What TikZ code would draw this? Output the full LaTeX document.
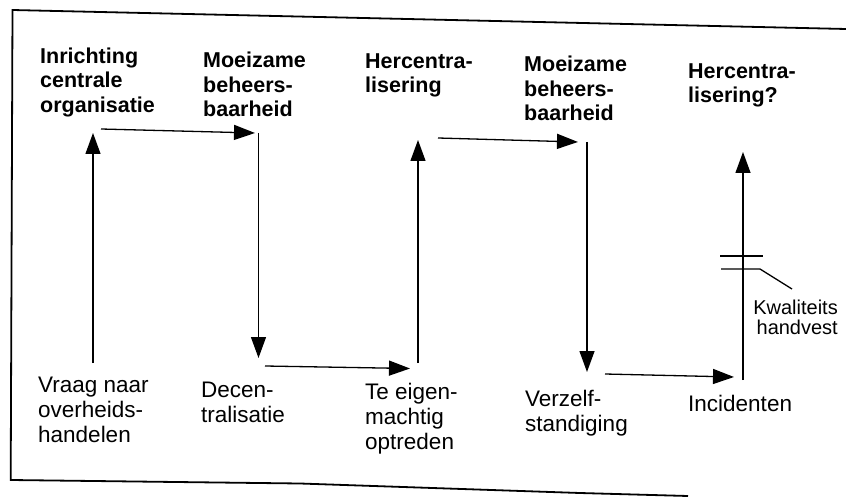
\documentclass[tikz,border=0pt]{standalone}
\usepackage{fontspec}
\setmainfont{Liberation Sans}
\usetikzlibrary{arrows.meta}
\begin{document}
\begin{tikzpicture}[x=1pt,y=-1pt,
  toplab/.style={anchor=north west, inner sep=0pt, align=left,
    font=\bfseries\fontsize{21.5}{24.5}\selectfont},
  botlab/.style={anchor=north west, inner sep=0pt, align=left,
    font=\fontsize{22.5}{25}\selectfont},
  kwlab/.style={anchor=north east, inner sep=0pt, align=right,
    font=\fontsize{20}{20}\selectfont},
  arr/.style={line width=1.3pt, -{Triangle[length=21pt,width=15pt]}},
  thin line/.style={line width=1.3pt},
  frameline/.style={line width=1.8pt}]
\useasboundingbox (0,0) rectangle (846,497);
% frame
\draw[frameline] (846,29) -- (12.5,10) -- (10.7,480) -- (300,483.5) -- (580,493) -- (688,496);
% labels
\node[toplab] (t1) at (40,47.7) {Inrichting\\centrale\\organisatie};
\node[toplab] (t2) at (203,52) {Moeizame\\beheers-\\baarheid};
\node[toplab] (t3) at (365,53.3) {Hercentra-\\lisering};
\node[toplab] (t4) at (524,56) {Moeizame\\beheers-\\baarheid};
\node[toplab] (t5) at (688,63.3) {Hercentra-\\lisering?};
\node[botlab] (b1) at (38,377.3) {Vraag naar\\overheids-\\handelen};
\node[botlab] (b2) at (201,381.7) {Decen-\\tralisatie};
\node[botlab] (b3) at (365,383.3) {Te eigen-\\machtig\\optreden};
\node[botlab] (b4) at (525,390) {Verzelf-\\standiging};
\node[botlab] (b5) at (688,395) {Incidenten};
\node[kwlab] (kw) at (838,300) {Kwaliteits\\handvest};
% connector end points
\coordinate (v1s) at (93,363);   \coordinate (v1e) at (93,133);
\coordinate (h1s) at (101,129);  \coordinate (h1e) at (255,133);
\coordinate (v2s) at (258.5,133);\coordinate (v2e) at (258.5,358);
\coordinate (h2s) at (265,366);  \coordinate (h2e) at (410,368.5);
\coordinate (v3s) at (418,363);  \coordinate (v3e) at (418,140);
\coordinate (h3s) at (438,138);  \coordinate (h3e) at (578,142);
\coordinate (v4s) at (587,142);  \coordinate (v4e) at (587,372);
\coordinate (h4s) at (605,374);  \coordinate (h4e) at (734,377);
\coordinate (v5s) at (743,380);  \coordinate (v5e) at (743,152);
\coordinate (m1a) at (720,256);  \coordinate (m1b) at (763,256);
\coordinate (m2a) at (721,269);  \coordinate (m2b) at (760,269);
\coordinate (kwend) at (792,289);
% connectors
\draw[arr] (v1s) -- (v1e);
\draw[arr] (h1s) -- (h1e);
\draw[arr] (v2s) -- (v2e);
\draw[arr] (h2s) -- (h2e);
\draw[arr] (v3s) -- (v3e);
\draw[arr] (h3s) -- (h3e);
\draw[arr] (v4s) -- (v4e);
\draw[arr] (h4s) -- (h4e);
\draw[arr] (v5s) -- (v5e);
% break marks with leader to the label
\draw[thin line] (m1a) -- (m1b);
\draw[thin line] (m2a) -- (m2b) -- (kwend);
\end{tikzpicture}
\end{document}
